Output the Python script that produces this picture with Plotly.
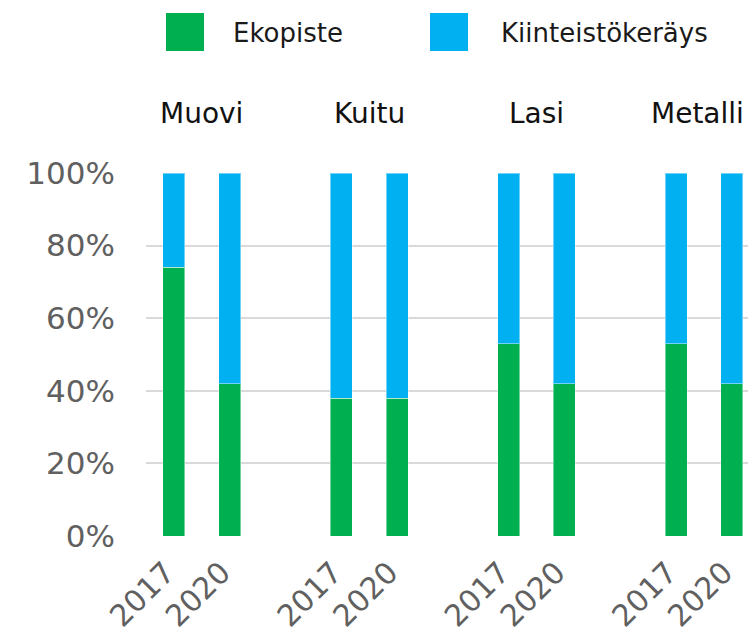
import plotly.graph_objects as go

groups = ["Muovi", "Kuitu", "Lasi", "Metalli"]
years = ["2017", "2020"]
ekopiste = [0.74, 0.42, 0.38, 0.38, 0.53, 0.42, 0.53, 0.42]
kiinteisto = [0.26, 0.58, 0.62, 0.62, 0.47, 0.58, 0.47, 0.58]
series_names = ["Ekopiste", "Kiinteistökeräys"]
colors = ["#00B050", "#00B0F0"]

W, H = 748, 637
ML, MR, MT, MB = 146, 0, 173, 101
PW, PH = W - ML - MR, H - MT - MB

positions = [3 * gi + yi for gi in range(len(groups)) for yi in range(len(years))]
ticktext = [y for _ in groups for y in years]

fig = go.Figure()
for name, vals, col in zip(series_names, [ekopiste, kiinteisto], colors):
    fig.add_trace(go.Bar(
        x=positions, y=vals, name=name, width=0.395,
        marker=dict(color=col, line=dict(color="rgba(255,255,255,0.45)", width=1)),
        showlegend=False,
    ))

def px_x(px):
    return (px - ML) / PW

def px_y(py):
    return (H - MB - py) / PH

shapes = []
annotations = []
# manual legend (large squares)
legend_items = [(166, 231), (430, 499)]
for (sx, tx), name, col in zip(legend_items, series_names, colors):
    shapes.append(dict(type="rect", xref="paper", yref="paper",
                       x0=px_x(sx), x1=px_x(sx + 38), y0=px_y(51), y1=px_y(13),
                       fillcolor=col, line=dict(width=0)))
    annotations.append(dict(text=name, xref="paper", yref="paper",
                            x=px_x(tx), y=px_y(33), xanchor="left", yanchor="middle",
                            showarrow=False, font=dict(size=26, color="#1a1a1a")))

# group labels
for gi, g in enumerate(groups):
    annotations.append(dict(text=g, xref="x", yref="paper",
                            x=3 * gi + 0.5, y=px_y(113), xanchor="center", yanchor="middle",
                            showarrow=False, font=dict(size=28, color="#111111"),
                            xshift=-6 if gi == len(groups) - 1 else 0))

fig.update_layout(
    width=W, height=H,
    margin=dict(l=ML, r=MR, t=MT, b=MB, pad=0),
    barmode="stack",
    plot_bgcolor="white", paper_bgcolor="white",
    font=dict(family="DejaVu Sans", color="#595959"),
    shapes=shapes, annotations=annotations,
    showlegend=False,
    xaxis=dict(range=[-0.5, 10.29], tickvals=positions, ticktext=ticktext,
               tickangle=-45, tickfont=dict(size=30, color="#606060"),
               ticklabelshift=-8, ticklabelstandoff=12,
               showgrid=False, zeroline=False, showline=False, ticks=""),
    yaxis=dict(range=[0, 1], tickvals=[0, 0.2, 0.4, 0.6, 0.8, 1.0], tickformat=".0%",
               tickfont=dict(size=31, color="#606060"),
               showgrid=True, gridcolor="#D9D9D9", gridwidth=1.5,
               zeroline=False, showline=False, ticks="", ticklabelstandoff=30),
)

fig.write_html("out.html", config={"displayModeBar": False},
               post_script="document.body.style.margin='0';document.body.style.overflow='hidden';")
